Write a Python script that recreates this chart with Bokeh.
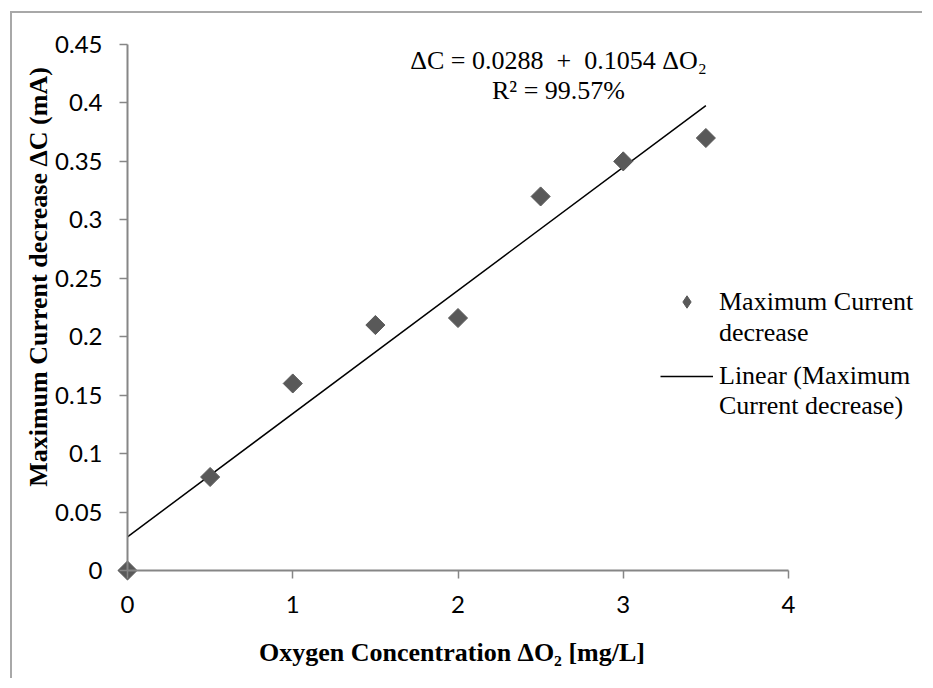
from bokeh.plotting import figure
from bokeh.models import FixedTicker, Label, Legend, LegendItem
from bokeh.embed import file_html
from bokeh.resources import INLINE
import math

# ---- data ----
o2 = [0, 0.5, 1, 1.5, 2, 2.5, 3, 3.5]
current = [0, 0.08, 0.16, 0.21, 0.216, 0.32, 0.35, 0.37]
trend_x = [0, 3.5]
trend_y = [0.0288, 0.3977]
x_ticks = [0, 1, 2, 3, 4]
y_ticks = [0, 0.05, 0.1, 0.15, 0.2, 0.25, 0.3, 0.35, 0.4, 0.45]
y_tick_labels = ["0", "0.05", "0.1", "0.15", "0.2", "0.25", "0.3", "0.35", "0.4", "0.45"]
NB = "\u00a0"
equation_text = "ΔC = 0.0288" + NB * 2 + "+" + NB * 2 + "0.1054 ΔO₂"
r2_text = "R² = 99.57%"
x_title = "Oxygen Concentration ΔO₂ [mg/L]"
y_title = "Maximum Current decrease ΔC (mA)"
series_lines = ["Maximum Current", "decrease"]
trend_lines = ["Linear (Maximum", "Current decrease)"]

SERIF = "Liberation Serif"
SANS = "Lato"
AXIS_GRAY = "#868686"
MARK_GRAY = "#595959"

# ---- layout (pixels) ----
W, H = 912, 667
CANVAS_X0, CANVAS_Y0 = 12, 13          # page position of the canvas
X0_PAGE, X4_PAGE = 127, 788            # page x of x=0 and x=4
Y0_PAGE, YTOP_PAGE = 570, 44           # page y of y=0 and y=0.45
X_AXIS_END, Y_AXIS_END = 4, 0.45
ux = X_AXIS_END / (X4_PAGE - X0_PAGE)
uy = Y_AXIS_END / (Y0_PAGE - YTOP_PAGE)

def dx(px):
    return (px - X0_PAGE) * ux

def dy(py):
    return (Y0_PAGE - py) * uy

x_range = (dx(CANVAS_X0), dx(CANVAS_X0 + W))
y_range = (dy(CANVAS_Y0 + H), dy(CANVAS_Y0))

p = figure(width=W, height=H, x_range=x_range, y_range=y_range,
           output_backend="svg", toolbar_location=None,
           min_border_left=0, min_border_right=0,
           min_border_top=0, min_border_bottom=0)
p.styles = {"margin-left": "10px", "margin-top": "11px",
            "border-left": "2px solid #a8a8a8", "border-top": "2px solid #a8a8a8"}
p.outline_line_color = None
p.xgrid.visible = False
p.ygrid.visible = False
p.background_fill_color = "white"
p.border_fill_color = "white"

for ax in (p.xaxis[0], p.yaxis[0]):
    ax.axis_line_color = AXIS_GRAY
    ax.axis_line_width = 2
    ax.major_tick_line_color = AXIS_GRAY
    ax.major_tick_line_width = 1.5
    ax.major_tick_in = 0
    ax.major_tick_out = 8
    ax.minor_tick_line_color = None
    ax.major_label_text_font = SANS
    ax.major_label_text_font_size = "24px"
    ax.major_label_text_color = "black"
    ax.fixed_location = 0

p.xaxis.bounds = (0, X_AXIS_END)
p.yaxis.bounds = (0, Y_AXIS_END)
p.xaxis.ticker = FixedTicker(ticks=x_ticks)
p.yaxis.ticker = FixedTicker(ticks=y_ticks)
p.yaxis.major_label_overrides = {t: s for t, s in zip(y_ticks, y_tick_labels)}
p.xaxis.major_label_standoff = 17
p.yaxis.major_label_standoff = 17

# axis titles
p.add_layout(Label(x=dx(451.5), y=dy(652), text=x_title, text_align="center",
                   text_baseline="middle", text_font=SERIF, text_font_style="bold",
                   text_font_size="26px", text_color="black"))
p.add_layout(Label(x=dx(38), y=dy(276.5), text=y_title, angle=math.pi / 2,
                   text_align="center", text_baseline="middle", text_font=SERIF,
                   text_font_style="bold", text_font_size="26px", text_color="black"))

# legend swatch renderer (a diamond), hidden beneath the first data marker
key = p.scatter(x=o2[:1], y=current[:1], marker="diamond", size=10,
                fill_color=MARK_GRAY, line_color=MARK_GRAY)
trend = p.line(trend_x, trend_y, line_color="black", line_width=1.5)
pts = p.scatter(o2, current, marker="square", size=13.5, angle=math.pi / 4,
                fill_color=MARK_GRAY, line_color=MARK_GRAY)

p.add_layout(Label(x=dx(558), y=dy(60), text=equation_text, text_align="center",
                   text_baseline="middle", text_font=SERIF, text_font_size="26px",
                   text_color="black"))
p.add_layout(Label(x=dx(558), y=dy(90), text=r2_text, text_align="center",
                   text_baseline="middle", text_font=SERIF, text_font_size="26px",
                   text_color="black"))

def make_legend(lines, renderer, loc, gh):
    items = [LegendItem(label=lines[0], renderers=[renderer]),
             LegendItem(label=lines[1], renderers=[])]
    lg = Legend(items=items, location=loc, padding=0, margin=0, spacing=0,
                glyph_width=53, glyph_height=gh, label_height=gh, label_standoff=6,
                label_text_font=SERIF, label_text_font_size="26px",
                label_text_color="black",
                border_line_color=None, background_fill_alpha=0)
    p.add_layout(lg, "center")

frame_bottom_page = CANVAS_Y0 + H
make_legend(series_lines, key, (660 - CANVAS_X0, frame_bottom_page - 348), 31)
make_legend(trend_lines, trend, (660 - CANVAS_X0, frame_bottom_page - 421), 30)

open("out.html", "w").write(file_html(p, INLINE))
